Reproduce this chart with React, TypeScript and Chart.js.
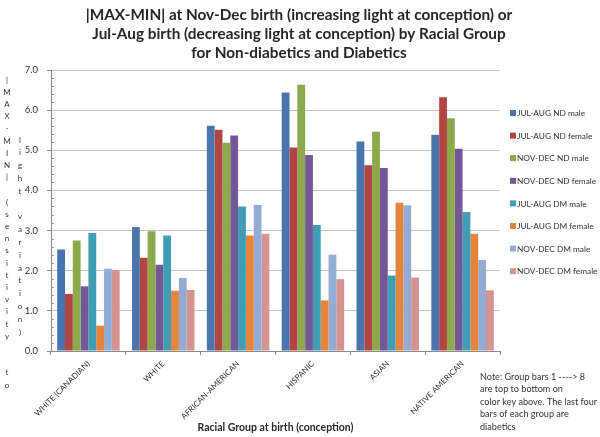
import React, { useEffect, useRef } from "react";
import { Chart, registerables } from "chart.js";

Chart.register(...registerables);

const categories = ["WHITE (CANADIAN)", "WHITE", "AFRICAN-AMERICAN", "HISPANIC", "ASIAN", "NATIVE AMERICAN"];

const seriesLabels = [
  "JUL-AUG ND male",
  "JUL-AUG ND female",
  "NOV-DEC ND male",
  "NOV-DEC ND female",
  "JUL-AUG DM male",
  "JUL-AUG DM female",
  "NOV-DEC DM male",
  "NOV-DEC DM female",
];

const julAugNdMale = [2.53, 3.09, 5.61, 6.44, 5.22, 5.39];
const julAugNdFemale = [1.42, 2.32, 5.51, 5.07, 4.63, 6.32];
const novDecNdMale = [2.75, 2.98, 5.19, 6.63, 5.46, 5.8];
const novDecNdFemale = [1.61, 2.15, 5.37, 4.88, 4.56, 5.04];
const julAugDmMale = [2.94, 2.88, 3.6, 3.14, 1.88, 3.46];
const julAugDmFemale = [0.63, 1.5, 2.88, 1.26, 3.69, 2.92];
const novDecDmMale = [2.05, 1.82, 3.64, 2.4, 3.63, 2.27];
const novDecDmFemale = [2.02, 1.52, 2.92, 1.79, 1.83, 1.51];

const seriesValues = [
  julAugNdMale,
  julAugNdFemale,
  novDecNdMale,
  novDecNdFemale,
  julAugDmMale,
  julAugDmFemale,
  novDecDmMale,
  novDecDmFemale,
];

const seriesColors = ["#4A74AE", "#B24542", "#8CAA4B", "#735796", "#3F9DB6", "#E5843A", "#94ACD4", "#D59392"];

const titleLines = [
  "|MAX-MIN| at Nov-Dec birth (increasing light at conception) or",
  "Jul-Aug birth (decreasing light at conception) by Racial Group",
  "for Non-diabetics and Diabetics",
];

const yTitleColumn1 = "|MAX-MIN| (sensitivity  to";
const yTitleColumn2 = "light variation)";
const xTitle = "Racial Group at birth (conception)";

const noteLines = [
  "Note: Group bars 1 ----> 8",
  "are top to bottom on",
  "color key above. The last four",
  "bars of each group are",
  "diabetics",
];

const FONT = "Lato, 'Open Sans', sans-serif";

const overlayPlugin = {
  id: "overlay",
  afterDraw(chart: any) {
    const ctx = chart.ctx as CanvasRenderingContext2D;
    ctx.save();

    // Title
    ctx.fillStyle = "#262626";
    ctx.font = `bold 15.3px ${FONT}`;
    ctx.textAlign = "center";
    ctx.textBaseline = "middle";
    const titleY = [15, 34, 53];
    titleLines.forEach((t, i) => ctx.fillText(t, 299, titleY[i]));

    // Y axis title, stacked letters
    ctx.fillStyle = "#333";
    ctx.font = `8px ${FONT}`;
    for (let i = 0; i < yTitleColumn1.length; i++) {
      ctx.fillText(yTitleColumn1[i], 7, 80 + i * 12.2);
    }
    for (let i = 0; i < yTitleColumn2.length; i++) {
      ctx.fillText(yTitleColumn2[i], 20, 140 + i * 12.8);
    }

    // Legend
    ctx.textAlign = "left";
    ctx.font = `8.3px ${FONT}`;
    chart.data.datasets.forEach((ds: any, i: number) => {
      const y = 113 + i * 22.6;
      ctx.fillStyle = ds.backgroundColor;
      ctx.fillRect(510, y - 3, 6, 6);
      ctx.fillStyle = "#333";
      ctx.fillText(ds.label, 517, y + 0.5);
    });

    // Note
    ctx.font = `9.1px ${FONT}`;
    ctx.fillStyle = "#333";
    noteLines.forEach((t, i) => ctx.fillText(t, 480, 377 + i * 12.5));

    // Minor ticks on y axis (inside)
    const ys = chart.scales.y;
    const left = chart.chartArea.left;
    ctx.strokeStyle = "#8a8a8a";
    ctx.lineWidth = 1;
    for (let k = 0; k <= 35; k++) {
      if (k % 5 === 0) continue;
      const py = Math.round(ys.getPixelForValue(k * 0.2)) + 0.5;
      ctx.beginPath();
      ctx.moveTo(left, py);
      ctx.lineTo(left + 3, py);
      ctx.stroke();
    }
    ctx.restore();
  },
};

export default function App() {
  const ref = useRef<HTMLCanvasElement | null>(null);

  useEffect(() => {
    if (!ref.current) return;
    const chart = new Chart(ref.current, {
      type: "bar",
      data: {
        labels: categories,
        datasets: seriesLabels.map((label, i) => ({
          label,
          data: seriesValues[i],
          backgroundColor: seriesColors[i],
          borderWidth: 0,
          categoryPercentage: 0.835,
          barPercentage: 1.0,
        })),
      },
      options: {
        responsive: false,
        animation: false,
        devicePixelRatio: 1,
        layout: { padding: { top: 70, left: 0, right: 100, bottom: 0 } },
        plugins: {
          legend: { display: false },
          title: { display: false },
          tooltip: { enabled: false },
        },
        scales: {
          x: {
            afterFit: (scale: any) => {
              scale.height = 86;
            },
            grid: {
              display: true,
              drawOnChartArea: false,
              drawTicks: true,
              tickLength: 4,
              color: "#8a8a8a",
              offset: true,
            },
            border: { color: "#8a8a8a", width: 1 },
            ticks: {
              autoSkip: false,
              maxRotation: 45,
              minRotation: 45,
              padding: 4,
              color: "#333",
              font: { family: FONT, size: 8 },
            },
            title: {
              display: true,
              text: xTitle,
              color: "#262626",
              font: { family: FONT, size: 10.5, weight: "bold" },
              padding: { top: 2, bottom: 3 },
            },
          },
          y: {
            min: 0,
            max: 7,
            afterFit: (scale: any) => {
              scale.width = 51;
            },
            grid: {
              color: "#c4c4c4",
              lineWidth: 1,
              tickLength: 4,
              tickColor: "#8a8a8a",
            },
            border: { color: "#8a8a8a", width: 1 },
            ticks: {
              stepSize: 1,
              padding: 9,
              color: "#333",
              font: { family: FONT, size: 9.5 },
              callback: (v: any) => Number(v).toFixed(1),
            },
          },
        },
      },
      plugins: [overlayPlugin],
    });
    return () => chart.destroy();
  }, []);

  return (
    <div style={{ position: "fixed", left: 0, top: 0, width: 600, height: 437, background: "#fff" }}>
      <canvas ref={ref} width={600} height={437} style={{ width: 600, height: 437, display: "block" }} />
    </div>
  );
}
